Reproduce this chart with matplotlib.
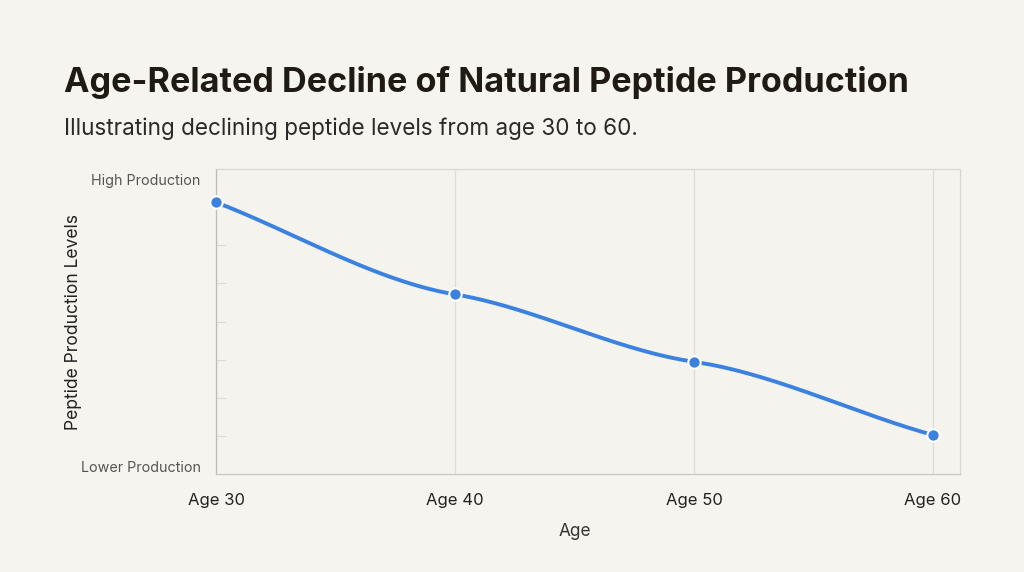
import numpy as np
import matplotlib.pyplot as plt

plt.rcParams['font.family'] = ['Inter', 'DejaVu Sans']

# data
ages = [30, 40, 50, 60]
age_labels = ['Age 30', 'Age 40', 'Age 50', 'Age 60']
levels = [89.1, 58.9, 36.8, 12.8]
level_ticks = [2.6, 96.7]
level_labels = ['Lower Production', 'High Production']

bg = '#f5f4ef'
blue = '#3b82e0'


def smooth(x, y, k=0.5, n=200):
    # hermite curve, interior tangents flattened a bit
    x = np.asarray(x, float)
    y = np.asarray(y, float)
    h = np.diff(x)
    s = np.diff(y) / h
    m = np.zeros_like(y)
    m[0], m[-1] = s[0], s[-1] * 0.9
    for i in range(1, len(x) - 1):
        m[i] = k * (s[i - 1] + s[i]) / 2
    xs, ys = [], []
    for i in range(len(x) - 1):
        t = np.linspace(0, 1, n)
        h00 = 2 * t**3 - 3 * t**2 + 1
        h10 = t**3 - 2 * t**2 + t
        h01 = -2 * t**3 + 3 * t**2
        h11 = t**3 - t**2
        xs.append(x[i] + t * h[i])
        ys.append(h00 * y[i] + h10 * h[i] * m[i] + h01 * y[i + 1] + h11 * h[i] * m[i + 1])
    return np.concatenate(xs), np.concatenate(ys)


fig = plt.figure(figsize=(10.24, 5.72), dpi=100, facecolor=bg)
ax = fig.add_axes([0.211, 0.1713, 0.7265, 0.5332], facecolor='#f4f3ee')

fig.text(0.0625, 0.855, 'Age-Related Decline of Natural Peptide Production',
         fontsize=24.6, fontweight='bold', color='#1f1a14', va='center')
fig.text(0.0625, 0.775, 'Illustrating declining peptide levels from age 30 to 60.',
         fontsize=16.2, color='#2a2a2a', va='center')

sx, sy = smooth(ages, levels)
ax.plot(sx, sy, color=blue, lw=2.8, solid_capstyle='round', zorder=3)
ax.scatter(ages, levels, s=80, color=blue, edgecolor='white', linewidth=1.5, zorder=4, clip_on=False)

ax.set_xlim(30, 61.13)
ax.set_ylim(0, 100)
ax.set_xticks(ages)
ax.set_xticklabels(age_labels)
ax.set_yticks(level_ticks)
ax.set_yticklabels(level_labels)
ax.set_yticks(np.arange(12.5, 100, 12.5), minor=True)
ax.tick_params(axis='x', length=0, pad=14, labelsize=12, labelcolor='#222222')
ax.tick_params(axis='y', which='major', length=0, pad=11, labelsize=10.3, labelcolor='#555555')
ax.tick_params(axis='y', which='minor', length=7, direction='in', color='#dddddd', width=0.8)

ax.grid(axis='x', color='#dcdcdc', lw=0.9)
for side, sp in ax.spines.items():
    sp.set_color('#d6d6d2')
    sp.set_linewidth(0.9)
ax.spines['left'].set_color('#bdbdb8')
ax.spines['bottom'].set_color('#c8c8c4')

ax.set_xlabel('Age', fontsize=12.4, color='#333333')
ax.xaxis.set_label_coords(0.482, -0.16)
ax.set_ylabel('Peptide Production Levels', fontsize=12.6, color='#222222')
ax.yaxis.set_label_coords(-0.18, 0.5)

fig.savefig('out.png', dpi=100, facecolor=bg)
